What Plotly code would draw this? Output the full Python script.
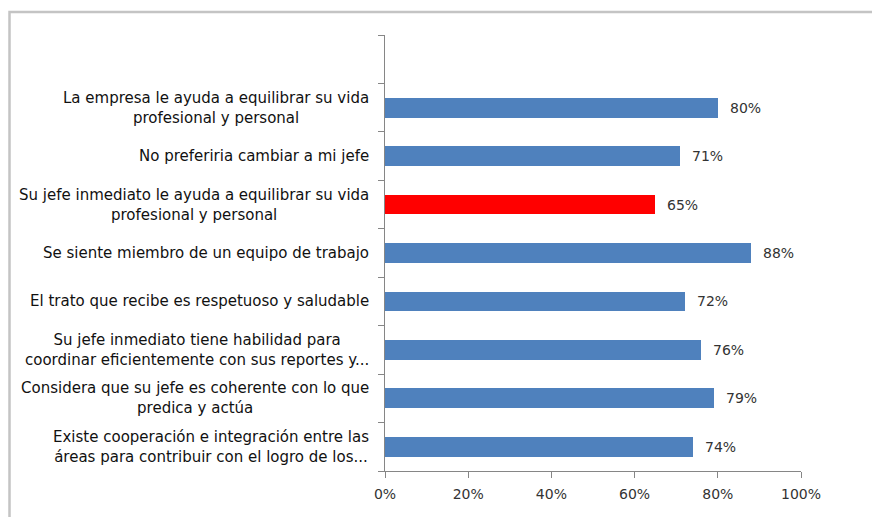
import plotly.graph_objects as go

# ---- data ----
categories = [
    "La empresa le ayuda a equilibrar su vida<br>profesional y personal",
    "No preferiria cambiar a mi jefe",
    "Su jefe inmediato le ayuda a equilibrar su vida<br>profesional y personal",
    "Se siente miembro de un equipo de trabajo",
    "El trato que recibe es respetuoso y saludable",
    "Su jefe inmediato tiene habilidad para<br>coordinar eficientemente con sus reportes y...",
    "Considera que su jefe es coherente con lo que<br>predica y actúa",
    "Existe cooperación e integración entre las<br>áreas para contribuir con el logro de los...",
]
values = [0.80, 0.71, 0.65, 0.88, 0.72, 0.76, 0.79, 0.74]
value_labels = ["80%", "71%", "65%", "88%", "72%", "76%", "79%", "74%"]
x_ticks = [0, 0.2, 0.4, 0.6, 0.8, 1.0]
x_tick_labels = ["0%", "20%", "40%", "60%", "80%", "100%"]
highlight = "Su jefe inmediato le ayuda a equilibrar su vida<br>profesional y personal"

# ---- styling ----
BLUE = "#4F81BD"
RED = "#FF0000"
FONT = "DejaVu Sans"
LABEL_FS = 15
n = len(categories)
ypos = [n - 1 - i for i in range(n)]  # first category at top
colors = [RED if c == highlight else BLUE for c in categories]

fig = go.Figure()
fig.add_trace(go.Bar(
    x=values, y=ypos, orientation="h",
    marker=dict(color=colors, line=dict(width=0)),
    width=0.41, hoverinfo="skip", showlegend=False,
))

annotations = []
for cat, y in zip(categories, ypos):
    annotations.append(dict(
        x=0, y=y, xref="paper", yref="y", text=cat, showarrow=False,
        xanchor="right", yanchor="middle", xshift=-14, align="center",
        font=dict(family=FONT, size=LABEL_FS, color="#111111"),
    ))

for v, lab, y in zip(values, value_labels, ypos):
    annotations.append(dict(
        x=v, y=y, xref="x", yref="y", text=lab, showarrow=False,
        xanchor="left", yanchor="middle", xshift=10,
        font=dict(family=FONT, size=14, color="#333333"),
    ))

W, H = 872, 509
L, R, T, B = 377, 79, 27, 46
pw, ph = W - L - R, H - T - B

fig.update_layout(
    width=W, height=H,
    margin=dict(l=L, r=R, t=T, b=B),
    paper_bgcolor="white", plot_bgcolor="white",
    annotations=annotations,
    bargap=0,
    xaxis=dict(
        range=[0, 1], tickvals=x_ticks, ticktext=x_tick_labels,
        showgrid=False, zeroline=False, showline=True, linecolor="#868686",
        linewidth=1, ticks="outside", ticklen=6, tickcolor="#868686",
        ticklabelstandoff=4,
        tickfont=dict(family=FONT, size=14, color="#333333"),
        fixedrange=True,
    ),
    yaxis=dict(
        range=[-0.5, n + 0.5],
        tickvals=[i - 0.5 for i in range(n + 2)],
        showticklabels=False,
        showgrid=False, zeroline=False, showline=True, linecolor="#868686",
        linewidth=1, ticks="outside", ticklen=6, tickcolor="#868686",
        fixedrange=True,
    ),
    shapes=[dict(
        type="rect", xref="paper", yref="paper",
        x0=(1.5 - L) / pw, x1=2.0,
        y0=-1.0, y1=(H - B - 4) / ph,
        line=dict(color="#c4c4c4", width=2.5), fillcolor="rgba(0,0,0,0)",
        layer="below",
    )],
)

fig.write_html("out.html")
